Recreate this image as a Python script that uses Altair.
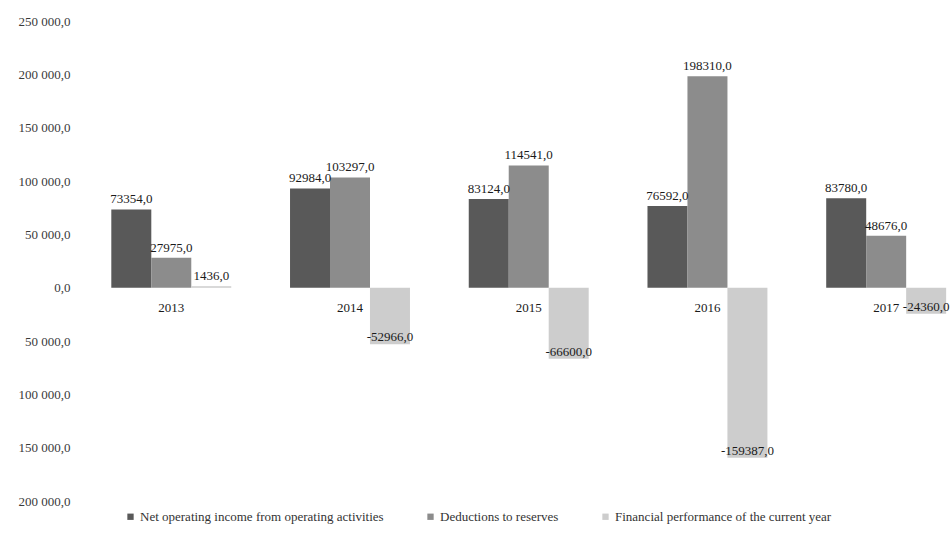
import altair as alt
import pandas as pd

# Yearly figures (thousand roubles)
years = ["2013", "2014", "2015", "2016", "2017"]
net_income = [73354.0, 92984.0, 83124.0, 76592.0, 83780.0]
deductions = [27975.0, 103297.0, 114541.0, 198310.0, 48676.0]
performance = [1436.0, -52966.0, -66600.0, -159387.0, -24360.0]

series_names = [
    "Net operating income from operating activities",
    "Deductions to reserves",
    "Financial performance of the current year",
]
series_colors = ["#595959", "#8c8c8c", "#cdcdcd"]
y_ticks = [-200000, -150000, -100000, -50000, 0, 50000, 100000, 150000, 200000, 250000]

rows = []
for values, name in zip([net_income, deductions, performance], series_names):
    for year, v in zip(years, values):
        rows.append({"year": year, "series": name, "value": v})
df = pd.DataFrame(rows)

SERIF = "Liberation Serif"
W, H = 872, 480
Y_MIN, Y_MAX = -200000, 250000
zero_from_bottom = H * (0 - Y_MIN) / (Y_MAX - Y_MIN)

x_enc = alt.X(
    "year:N",
    sort=years,
    scale=alt.Scale(paddingInner=0.329, paddingOuter=0.104, align=0.95),
    axis=alt.Axis(
        title=None, domain=False, ticks=False, tickSize=0, labelAngle=0,
        labelFont=SERIF, labelFontSize=13, labelColor="#1a1a1a",
        labelPadding=14, offset=-zero_from_bottom, grid=False,
    ),
)
xoff_enc = alt.XOffset("series:N", sort=series_names,
                       scale=alt.Scale(paddingInner=0, paddingOuter=0))
y_enc = alt.Y(
    "value:Q",
    scale=alt.Scale(domain=[Y_MIN, Y_MAX], nice=False, zero=False),
    axis=alt.Axis(
        title=None, values=y_ticks, domain=False, ticks=False, tickSize=0,
        grid=False, labelFont=SERIF, labelFontSize=13, labelColor="#3a3a3a",
        labelPadding=6,
        labelExpr="replace(replace(format(abs(datum.value), ',.1f'), /,/g, ' '), /\\./g, ',')",
    ),
)

base = alt.Chart(df)

bars = base.mark_bar(size=40).encode(
    x=x_enc,
    xOffset=xoff_enc,
    y=y_enc,
    y2=alt.datum(0),
    color=alt.Color(
        "series:N",
        scale=alt.Scale(domain=series_names, range=series_colors),
        legend=alt.Legend(
            title=None, orient="none", direction="horizontal",
            legendX=48, legendY=489, symbolType="square", symbolSize=40,
            symbolStrokeWidth=0, labelFont=SERIF, labelFontSize=13,
            labelColor="#333333", columnPadding=40, symbolOffset=0,
            labelOffset=3, labelLimit=400,
        ),
    ),
)

label_expr = "(datum.value < 0 ? '-' : '') + replace(format(abs(datum.value), '.1f'), '.', ',')"

pos_labels = base.transform_filter("datum.value >= 0").transform_calculate(
    label=label_expr
).mark_text(
    font=SERIF, fontSize=13, color="#1a1a1a", baseline="bottom", dy=-3
).encode(x=x_enc, xOffset=xoff_enc, y=y_enc, text="label:N")

neg_labels = base.transform_filter("datum.value < 0").transform_calculate(
    label=label_expr
).mark_text(
    font=SERIF, fontSize=13, color="#1a1a1a", baseline="middle", dy=-7
).encode(x=x_enc, xOffset=xoff_enc, y=y_enc, text="label:N")

chart = alt.layer(bars, pos_labels, neg_labels).properties(
    width=W,
    height=H,
    autosize=alt.AutoSizeParams(type="none"),
    padding={"left": 76, "top": 21, "right": 2, "bottom": 39},
).configure(
    background="white",
    view=alt.ViewConfig(strokeWidth=0, stroke="transparent"),
    legend=alt.LegendConfig(labelFont=SERIF),
)

chart.save("out.html", embed_options={"renderer": "svg", "actions": False})
